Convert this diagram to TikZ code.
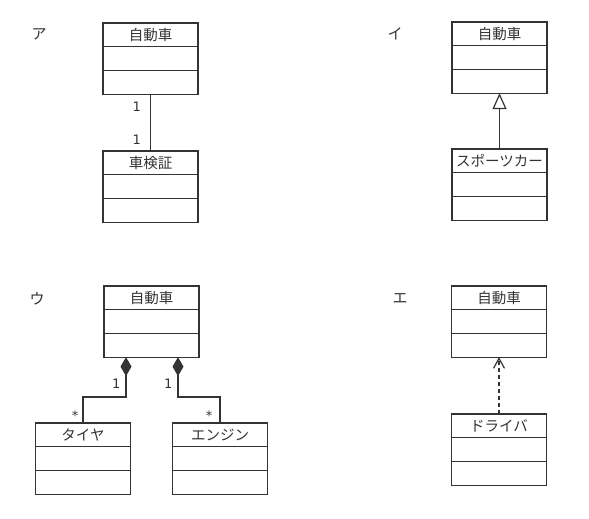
\documentclass[tikz,border=0pt]{standalone}
\usepackage{fontspec}
\setmainfont{Noto Sans CJK JP}
\newfontfamily\multfont{DejaVu Sans}
\usetikzlibrary{arrows.meta,positioning}

% a class box: name compartment, attributes, operations
\newcommand{\umlclass}[3]{%
  \node[part] (#1) at (#2) {#3};
  \node[part,below=0pt of #1] (#1-attr) {};
  \node[part,below=0pt of #1-attr] (#1-op) {};
}

\begin{document}
\begin{tikzpicture}[
  x=1pt,y=-1pt,
  line/.style={draw=black!80,line width=1.2pt},
  part/.style={line,rectangle,minimum width=95pt,minimum height=23.7pt,
    inner sep=0pt,outer sep=0pt,text=black!80,font=\fontsize{14.5}{16}\selectfont},
  title/.style={font=\fontsize{15}{16}\selectfont,inner sep=0pt,text=black!80},
  mult/.style={font=\multfont\fontsize{13}{15}\selectfont,inner sep=2pt,text=black!80},
  gen/.style={line,-{Triangle[open,length=16pt,width=14pt]}},
  comp/.style={line,arrows={Diamond[length=19pt,width=11pt]-}},
  dep/.style={line,dash pattern=on 4pt off 3pt,-{Straight Barb[length=10pt,width=11pt]}}]

  \useasboundingbox (0,0) rectangle (589,519);

  % Panel labels
  \node[title] (la) at (39,34) {ア};
  \node[title] (li) at (395,34) {イ};
  \node[title] (lu) at (37,299) {ウ};
  \node[title] (le) at (400,298) {エ};

  % The class boxes
  \umlclass{car1}{150.5,34.85}{自動車}
  \umlclass{cert}{150.5,162.85}{車検証}
  \umlclass{car2}{499.5,33.85}{自動車}
  \umlclass{sports}{499.5,160.85}{スポーツカー}
  \umlclass{car3}{151.5,297.85}{自動車}
  \umlclass{tire}{83,434.85}{タイヤ}
  \umlclass{engine}{220,434.85}{エンジン}
  \umlclass{car4}{499,297.85}{自動車}
  \umlclass{driver}{499,425.85}{ドライバ}

  % Association
  \draw[line] (car1-op.south) -- node[mult,pos=0.22,left=7pt] {1}
      node[mult,pos=0.81,left=7pt] {1} (cert.north);

  % Generalization
  \draw[gen] (sports.north) -- (car2-op.south);

  % Composition
  \draw[comp] ([xshift=-25.5pt]car3-op.south) |- node[mult,pos=0.34,left=3pt] {1}
      ([yshift=26pt]tire.north) -- node[mult,pos=0.7,left=2pt] {*} (tire.north);
  \draw[comp] ([xshift=26.5pt]car3-op.south) |- node[mult,pos=0.34,left=3pt] {1}
      ([yshift=26pt]engine.north) -- node[mult,pos=0.7,left=5pt] {*} (engine.north);

  % Dependency
  \draw[dep] (driver.north) -- (car4-op.south);
\end{tikzpicture}
\end{document}
